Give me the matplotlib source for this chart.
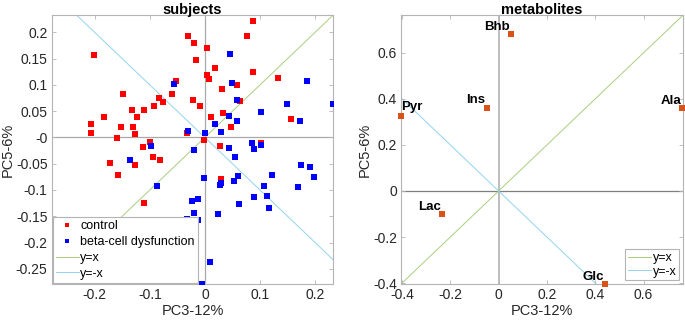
import numpy as np
from matplotlib import pyplot as plt
from matplotlib.ticker import FormatStrFormatter

# subjects scores (PC3, PC5)
controlX = [-0.202, -0.030, -0.019, -0.017, 0.004, 0.087, 0.076, 0.087, 0.018, 0.004,
            0.007, 0.133, 0.031, 0.058, 0.063, -0.053, -0.149, -0.083, -0.059, -0.076,
            -0.092, -0.111, -0.132, -0.124, -0.021, -0.008, -0.184, -0.207, -0.206, -0.153,
            -0.130, -0.127, -0.159, 0.012, 0.033, 0.048, 0.156, -0.032, -0.001, 0.027,
            0.101, -0.099, -0.113, -0.094, -0.082, -0.172, -0.157, -0.126, -0.111, 0.030]
controlY = [0.156, 0.193, 0.180, 0.148, 0.171, 0.221, 0.194, 0.124, 0.133, 0.119,
            0.111, 0.113, 0.093, 0.100, 0.069, 0.107, 0.082, 0.076, 0.082, 0.067,
            0.059, 0.053, 0.053, 0.039, 0.072, 0.060, 0.039, 0.026, 0.008, 0.020,
            0.020, 0.007, -0.001, 0.039, 0.046, 0.020, 0.035, 0.008, -0.005, -0.017,
            -0.011, -0.008, -0.019, -0.038, -0.043, -0.049, -0.071, -0.053, -0.125, -0.080]

betaX = [-0.056, 0.046, 0.049, 0.058, 0.043, 0.018, 0.029, 0.058, 0.102, 0.149,
         0.185, 0.233, 0.172, -0.030, 0.000, -0.098, -0.019, 0.044, 0.054, 0.085,
         0.089, 0.101, -0.136, -0.086, -0.002, -0.023, -0.012, -0.020, -0.032, -0.022,
         -0.012, 0.009, -0.006, 0.052, 0.060, 0.029, 0.028, 0.062, 0.023, 0.090,
         0.107, 0.113, 0.116, 0.122, 0.169, 0.175, 0.190, 0.198]
betaY = [0.102, 0.159, 0.104, 0.071, 0.041, 0.025, 0.011, 0.031, 0.048, 0.064,
         0.107, 0.064, 0.031, 0.013, 0.008, -0.016, -0.023, -0.020, -0.038, -0.011,
         -0.022, -0.015, -0.043, -0.092, -0.078, -0.121, -0.118, -0.144, -0.156, -0.159,
         -0.157, -0.238, -0.279, -0.082, -0.074, -0.086, -0.091, -0.127, -0.145, -0.114,
         -0.092, -0.112, -0.134, -0.072, -0.095, -0.052, -0.057, -0.075]

# metabolite loadings
metNames = ['Bhb', 'Ins', 'Pyr', 'Ala', 'Lac', 'Glc']
metX = [0.050, -0.050, -0.404, 0.760, -0.234, 0.441]
metY = [0.680, 0.361, 0.325, 0.360, -0.101, -0.404]

plt.rcParams['font.family'] = ['Liberation Sans', 'DejaVu Sans']
textCol = '#262626'
boxCol = '#b4b4b4'

def styleAxes(ax):
    for s in ax.spines.values():
        s.set_color(boxCol)
        s.set_linewidth(0.8)
    ax.tick_params(direction='in', top=True, right=True, length=3, width=0.6,
                   color=boxCol, labelcolor=textCol, labelsize=10, pad=3)
    ax.xaxis.set_major_formatter(FormatStrFormatter('%g'))
    ax.yaxis.set_major_formatter(FormatStrFormatter('%g'))
    ax.set_xlabel('PC3-12%', fontsize=10.5, color=textCol, labelpad=1)
    ax.set_ylabel('PC5-6%', fontsize=10.5, color=textCol, labelpad=1)

def refLines(ax, vcol, hcol, vw, hw):
    ax.axvline(0, color=vcol, lw=vw, zorder=1)
    ax.axhline(0, color=hcol, lw=hw, zorder=1)
    ax.axline((0, 0), slope=1, color='#a9cf7f', lw=0.7, label='y=x', zorder=1)
    ax.axline((0, 0), slope=-1, color='#92d4f0', lw=0.7, label='y=-x', zorder=1)

fig = plt.figure(figsize=(6.85, 3.2), dpi=100)

# subjects
ax1 = fig.add_axes([0.0755, 0.1125, 0.411, 0.8405])
ax1.plot(controlX, controlY, 's', color='#ff0000', ms=4.3, mew=0, label='control', zorder=3)
ax1.plot(betaX, betaY, 's', color='#0000ff', ms=4.3, mew=0, label='beta-cell dysfunction', zorder=3)
refLines(ax1, '#a8a8a8', '#a8a8a8', 0.9, 0.9)
ax1.set_xlim(-0.278, 0.233)
ax1.set_ylim(-0.279, 0.233)
ax1.set_xticks([-0.2, -0.1, 0, 0.1, 0.2])
ax1.set_yticks(np.arange(-0.25, 0.21, 0.05).round(2))
styleAxes(ax1)
ax1.set_title('subjects', fontsize=10.5, fontweight='bold', color='black', pad=1)
leg = ax1.legend(loc='lower left', fontsize=9, handlelength=1.8, handletextpad=0.15,
                 labelspacing=0.3, borderpad=0.25, borderaxespad=0.1, markerscale=0.75,
                 fancybox=False, framealpha=1)
leg.get_frame().set_edgecolor(boxCol)
leg.get_frame().set_linewidth(0.8)

# metabolites
ax2 = fig.add_axes([0.5855, 0.1125, 0.4118, 0.8405])
ax2.plot(metX, metY, 's', color='#d95319', ms=4.3, mew=0, zorder=3, clip_on=False)
refLines(ax2, '#bdbdbd', '#7f7f7f', 1.4, 0.9)
for name, x, y in zip(metNames, metX, metY):
    if name == 'Pyr':
        ax2.text(x, y + 0.012, name, ha='left', va='bottom', fontsize=9.5, fontweight='bold')
    else:
        ax2.text(x - 0.005, y + 0.006, name, ha='right', va='bottom', fontsize=9.5, fontweight='bold')
ax2.set_xlim(-0.404, 0.764)
ax2.set_ylim(-0.404, 0.764)
ax2.set_xticks([-0.4, -0.2, 0, 0.2, 0.4, 0.6])
ax2.set_yticks([-0.4, -0.2, 0, 0.2, 0.4, 0.6])
styleAxes(ax2)
ax2.set_title('metabolites', fontsize=10.5, fontweight='bold', color='black', pad=1)
leg2 = ax2.legend(loc='lower right', fontsize=9, handlelength=1.9, handletextpad=0.15,
                  labelspacing=0.15, borderpad=0.2, borderaxespad=0.3,
                  fancybox=False, framealpha=1)
leg2.get_frame().set_edgecolor(boxCol)
leg2.get_frame().set_linewidth(0.8)

plt.savefig('out.png', dpi=100)
